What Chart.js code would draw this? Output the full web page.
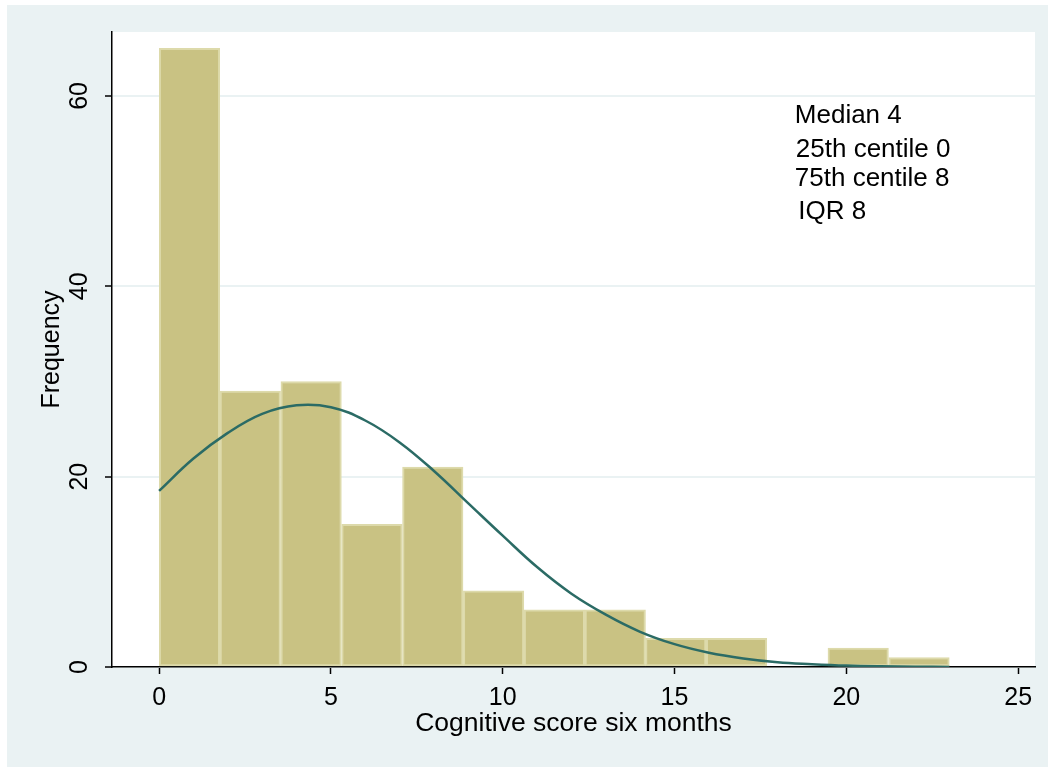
<!DOCTYPE html>
<html lang="en">
<head>
    <meta charset="UTF-8">
    <title>Cognitive score six months - histogram</title>
    <script src="https://cdn.jsdelivr.net/npm/chart.js"></script>
    <style>
        body { margin: 0; background: #fff; }
        canvas { display: block; }
    </style>
</head>
<body>
    <canvas id="histChart" width="1048" height="767"></canvas>

    <script>
        // histogram bins (left edge of each bin) and counts
        const binStarts = [0, 1.77, 3.54, 5.31, 7.08, 8.85, 10.62, 12.39, 14.15, 15.92, 17.69, 19.46, 21.23];
        const binWidth = 1.77;
        const counts = [65, 29, 30, 15, 21, 8, 6, 6, 3, 3, 0, 2, 1];

        // normal curve overlay
        const curveX = [0, 1, 2, 3, 4, 5, 6, 7, 8, 9, 10, 11, 12, 13, 14, 15, 16, 17, 18, 19, 20, 21, 22, 23];
        const curveY = [18.5, 21.9, 24.6, 26.6, 27.5, 27.3, 25.9, 23.6, 20.6, 17.2, 13.8, 10.5, 7.7, 5.5, 3.7, 2.4, 1.5, 0.9, 0.5, 0.3, 0.15, 0.07, 0.03, 0.01];

        const xTicks = [0, 5, 10, 15, 20, 25];
        const yTicks = [0, 20, 40, 60];

        // text box in the top right
        const notes = ['Median 4', '25th centile 0', '75th centile 8', 'IQR 8'];
        const notesX = [18.5, 18.53, 18.5, 18.6];
        const notesY = [57.2, 53.6, 50.5, 47.1];

        const FONT = "'Liberation Sans', Arial, sans-serif";
        const PANEL = '#EAF2F3';

        const bgPlugin = {
            id: 'bg',
            beforeDraw(chart) {
                const { ctx, chartArea: a } = chart;
                ctx.save();
                ctx.fillStyle = '#fff';
                ctx.fillRect(0, 0, chart.width, chart.height);
                ctx.fillStyle = PANEL;
                ctx.fillRect(7, 5, chart.width - 7, chart.height - 5);
                ctx.fillStyle = '#fff';
                ctx.fillRect(a.left, a.top, a.right - a.left, a.bottom - a.top);
                ctx.restore();
            }
        };

        // rotated y tick labels and the note text
        const textPlugin = {
            id: 'texts',
            afterDraw(chart) {
                const { ctx, scales: { x, y } } = chart;
                ctx.save();
                ctx.fillStyle = '#000';
                ctx.font = '25px ' + FONT;
                ctx.textAlign = 'center';
                ctx.textBaseline = 'middle';
                y.ticks.forEach(t => {
                    ctx.save();
                    ctx.translate(80, y.getPixelForValue(t.value));
                    ctx.rotate(-Math.PI / 2);
                    ctx.fillText(String(t.value), 0, 0);
                    ctx.restore();
                });
                ctx.font = '26px ' + FONT;
                ctx.textAlign = 'left';
                ctx.textBaseline = 'alphabetic';
                notes.forEach((s, i) => {
                    ctx.fillText(s, x.getPixelForValue(notesX[i]), y.getPixelForValue(notesY[i]));
                });
                ctx.restore();
            }
        };

        new Chart(document.getElementById('histChart'), {
            type: 'bar',
            data: {
                datasets: [{
                    type: 'line',
                    data: curveX.map((v, i) => ({ x: v, y: curveY[i] })),
                    borderColor: '#2B6B65',
                    borderWidth: 2.5,
                    pointRadius: 0,
                    tension: 0.4,
                    order: 0
                }, {
                    type: 'bar',
                    data: binStarts.map((v, i) => ({ x: v + binWidth / 2, y: counts[i] })),
                    backgroundColor: '#C9C283',
                    borderColor: '#DDDAAB',
                    borderWidth: 2,
                    borderSkipped: false,
                    barPercentage: 1,
                    categoryPercentage: 1,
                    order: 1
                }]
            },
            options: {
                responsive: false,
                animation: false,
                layout: { padding: { top: 32, right: 13, left: 0, bottom: 0 } },
                plugins: { legend: { display: false }, tooltip: { enabled: false } },
                scales: {
                    x: {
                        type: 'linear',
                        offset: false,
                        min: -1.37,
                        max: 25.49,
                        afterFit: s => { s.height = 100; },
                        afterBuildTicks: s => { s.ticks = xTicks.map(v => ({ value: v })); },
                        ticks: { color: '#000', font: { family: FONT, size: 25 }, padding: 9, maxRotation: 0 },
                        grid: { drawOnChartArea: false, offset: false, tickColor: '#000', tickLength: 7, tickWidth: 1.5 },
                        border: { color: '#000', width: 1.5 },
                        title: {
                            display: true,
                            text: 'Cognitive score six months',
                            color: '#000',
                            font: { family: FONT, size: 26.5 },
                            padding: { top: 0, bottom: 27 }
                        }
                    },
                    y: {
                        min: 0,
                        max: 66.72,
                        afterFit: s => { s.width = 112; },
                        afterBuildTicks: s => { s.ticks = yTicks.map(v => ({ value: v })); },
                        ticks: { display: false },
                        grid: { color: PANEL, lineWidth: 2, tickColor: '#000', tickLength: 7, tickWidth: 1.5 },
                        border: { color: '#000', width: 1.5 },
                        title: {
                            display: true,
                            text: 'Frequency',
                            color: '#000',
                            font: { family: FONT, size: 25 },
                            padding: { top: 37, bottom: 0 }
                        }
                    }
                }
            },
            plugins: [bgPlugin, textPlugin]
        });
    </script>
</body>
</html>
